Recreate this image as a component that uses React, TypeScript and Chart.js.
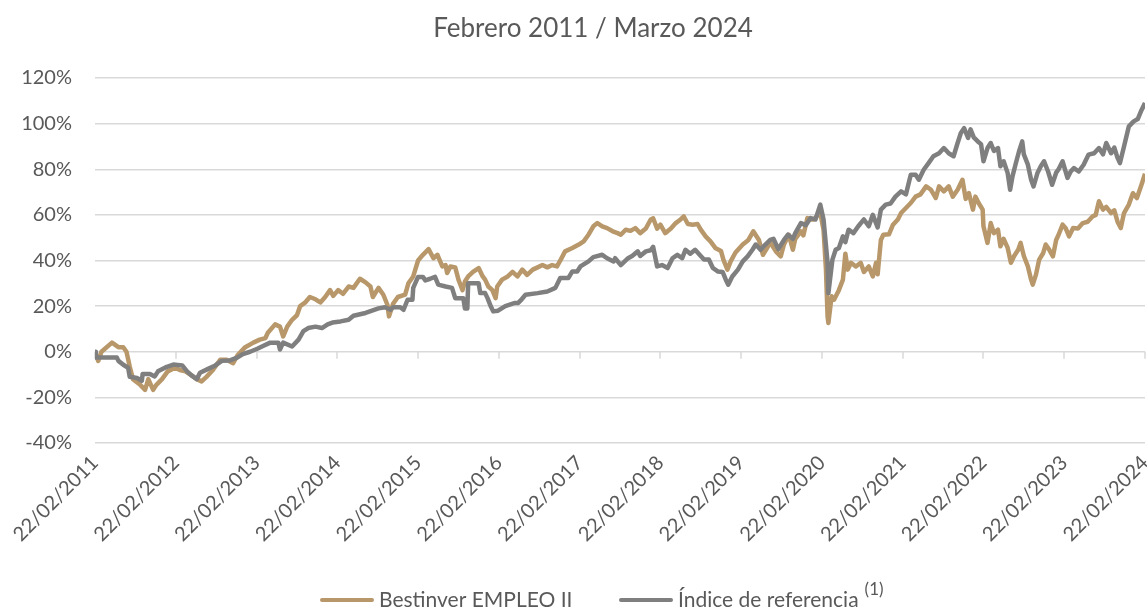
import React, { useEffect, useRef } from 'react';
import { Chart, registerables } from 'chart.js';

Chart.register(...registerables);

const TITLE = 'Febrero 2011 / Marzo 2024';
const START_YEAR = 2011;
const TICK_PREFIX = '22/02/';
const YEAR_TICKS = [0, 1, 2, 3, 4, 5, 6, 7, 8, 9, 10, 11, 12, 13];
const Y_MIN = -40;
const Y_MAX = 120;
const Y_STEP = 20;

const FUND_NAME = 'Bestinver EMPLEO II';
const INDEX_NAME = 'Índice de referencia';
const INDEX_NOTE = '(1)';

// years since 22/02/2011
const fundT = [0, 0.04, 0.08, 0.21, 0.29, 0.35, 0.39, 0.43, 0.47, 0.56, 0.62, 0.66, 0.72, 0.76, 0.83, 0.9, 0.99, 1.05, 1.12, 1.18, 1.26, 1.32, 1.38, 1.46, 1.55, 1.63, 1.71, 1.77, 1.86, 1.96, 2.04, 2.11, 2.14, 2.23, 2.29, 2.33, 2.38, 2.44, 2.5, 2.54, 2.6, 2.66, 2.73, 2.79, 2.85, 2.91, 2.95, 3.01, 3.07, 3.14, 3.2, 3.28, 3.35, 3.41, 3.44, 3.51, 3.57, 3.62, 3.64, 3.69, 3.75, 3.84, 3.88, 3.94, 4.0, 4.06, 4.13, 4.19, 4.24, 4.3, 4.34, 4.36, 4.4, 4.46, 4.5, 4.55, 4.58, 4.62, 4.68, 4.75, 4.8, 4.83, 4.87, 4.92, 4.96, 4.98, 5.04, 5.11, 5.17, 5.23, 5.29, 5.35, 5.42, 5.48, 5.54, 5.6, 5.66, 5.72, 5.77, 5.82, 5.91, 5.99, 6.05, 6.11, 6.17, 6.22, 6.28, 6.34, 6.41, 6.47, 6.51, 6.57, 6.63, 6.69, 6.75, 6.82, 6.88, 6.91, 6.96, 7.0, 7.06, 7.13, 7.19, 7.25, 7.29, 7.34, 7.4, 7.46, 7.5, 7.56, 7.62, 7.68, 7.75, 7.78, 7.83, 7.87, 7.93, 8.02, 8.09, 8.15, 8.22, 8.27, 8.33, 8.36, 8.43, 8.49, 8.53, 8.59, 8.64, 8.67, 8.74, 8.77, 8.82, 8.86, 8.9, 8.95, 8.98, 9.02, 9.05, 9.07, 9.08, 9.12, 9.15, 9.21, 9.26, 9.29, 9.32, 9.36, 9.42, 9.48, 9.52, 9.58, 9.63, 9.67, 9.69, 9.73, 9.76, 9.83, 9.88, 9.94, 9.98, 10.04, 10.1, 10.16, 10.22, 10.29, 10.35, 10.41, 10.45, 10.51, 10.57, 10.62, 10.68, 10.74, 10.78, 10.82, 10.87, 10.9, 10.94, 10.99, 11.0, 11.05, 11.09, 11.13, 11.18, 11.21, 11.25, 11.3, 11.34, 11.38, 11.43, 11.46, 11.5, 11.55, 11.59, 11.61, 11.65, 11.69, 11.74, 11.77, 11.81, 11.86, 11.9, 11.93, 11.98, 12.02, 12.06, 12.11, 12.17, 12.23, 12.29, 12.35, 12.39, 12.43, 12.48, 12.52, 12.58, 12.62, 12.66, 12.7, 12.74, 12.8, 12.85, 12.9, 12.95, 13.0];
const fundV = [0, -4, 0, 4, 2, 2, 0, -6.5, -12, -14.5, -16.7, -12, -16.7, -14.5, -12, -8.6, -7, -8, -8.6, -10, -12, -13, -11, -8, -3.5, -3.5, -5, -1.3, 2, 4, 5.3, 6, 8.3, 12, 11, 6.7, 11, 14, 16, 20, 21.5, 24, 23, 21.6, 24, 27, 24.5, 27, 25.4, 28.6, 28, 32, 30.4, 28.6, 24, 28, 25, 20.6, 15.5, 21, 24, 25, 30, 33, 40, 42.5, 45, 41, 42.5, 37.4, 38, 34.5, 37.4, 37, 31.6, 27, 30.8, 33, 35, 36.7, 33, 31.6, 28.6, 27, 23.5, 28.6, 31.6, 33, 35, 33, 36, 33.7, 36, 37, 38, 37, 38, 37.4, 40.6, 44, 45.5, 47, 48.4, 51.3, 55, 56.4, 55, 54.2, 52.8, 52, 51.3, 53.5, 53, 54.2, 52, 54, 58, 58.5, 54, 55.7, 52, 54, 56.4, 58, 59.3, 56, 55.7, 56, 53.5, 50.6, 48.4, 45.5, 44.2, 40.4, 36, 39.6, 43.5, 47, 49, 52.8, 49, 42.5, 46, 48, 44, 41.8, 47, 51.3, 44.7, 49.5, 52.8, 51, 58.6, 58, 58, 60, 60.8, 53.5, 36, 15.5, 12.6, 24.3, 22.8, 27, 31.6, 43, 36, 39, 37.4, 39, 35, 37.4, 33, 39, 34, 49, 51.3, 51.5, 55.7, 58, 60.8, 63, 65.2, 68, 69, 72.5, 71, 67.4, 72.5, 70.3, 72.5, 68, 71, 75.4, 67, 69.5, 62.3, 68, 65.2, 62.3, 55, 47.7, 56.4, 52, 53.5, 46.2, 49.5, 45.5, 39, 42, 44.7, 47.7, 42, 37.4, 31.6, 29.4, 33.8, 40.4, 43.3, 47, 45, 41.8, 49, 51.3, 55.7, 54, 50.6, 54.2, 54, 56.4, 57, 59.3, 60, 66, 62.3, 63.5, 60.8, 62, 57, 54.2, 60.8, 64.5, 69.5, 67.4, 72.5, 78];

const indexT = [0, 0.01, 0.27, 0.29, 0.35, 0.41, 0.43, 0.52, 0.58, 0.59, 0.68, 0.74, 0.78, 0.89, 0.97, 1.08, 1.14, 1.2, 1.26, 1.3, 1.4, 1.49, 1.57, 1.67, 1.76, 1.83, 1.92, 2.01, 2.08, 2.17, 2.27, 2.29, 2.33, 2.44, 2.52, 2.58, 2.64, 2.73, 2.81, 2.88, 2.94, 3.04, 3.14, 3.2, 3.35, 3.43, 3.51, 3.59, 3.66, 3.69, 3.78, 3.82, 3.87, 3.93, 3.94, 4.0, 4.06, 4.09, 4.15, 4.21, 4.25, 4.34, 4.42, 4.46, 4.56, 4.58, 4.61, 4.62, 4.75, 4.77, 4.83, 4.86, 4.9, 4.93, 4.99, 5.08, 5.2, 5.24, 5.27, 5.33, 5.48, 5.6, 5.7, 5.76, 5.86, 5.91, 5.97, 6.01, 6.11, 6.17, 6.28, 6.34, 6.42, 6.44, 6.51, 6.6, 6.65, 6.72, 6.75, 6.82, 6.88, 6.91, 6.96, 7.02, 7.09, 7.15, 7.21, 7.27, 7.31, 7.37, 7.43, 7.5, 7.54, 7.6, 7.65, 7.71, 7.77, 7.81, 7.84, 7.89, 7.96, 8.02, 8.08, 8.14, 8.18, 8.24, 8.3, 8.36, 8.4, 8.46, 8.53, 8.58, 8.64, 8.67, 8.74, 8.8, 8.86, 8.92, 8.98, 9.02, 9.07, 9.08, 9.13, 9.17, 9.21, 9.26, 9.29, 9.33, 9.39, 9.45, 9.52, 9.58, 9.63, 9.69, 9.73, 9.79, 9.85, 9.91, 9.98, 10.04, 10.1, 10.16, 10.2, 10.26, 10.32, 10.38, 10.45, 10.51, 10.57, 10.63, 10.68, 10.72, 10.76, 10.81, 10.84, 10.88, 10.93, 10.97, 11.0, 11.05, 11.09, 11.13, 11.18, 11.21, 11.25, 11.3, 11.33, 11.36, 11.4, 11.44, 11.48, 11.5, 11.55, 11.59, 11.62, 11.67, 11.71, 11.75, 11.8, 11.85, 11.9, 11.93, 11.98, 12.04, 12.08, 12.12, 12.18, 12.24, 12.3, 12.37, 12.43, 12.48, 12.52, 12.58, 12.62, 12.66, 12.69, 12.74, 12.8, 12.86, 12.91, 12.95, 13.0];
const indexV = [0, -2.5, -2.5, -4, -5.7, -7, -11, -11.5, -12.7, -9.7, -9.7, -10.8, -8.6, -6.6, -5.6, -6, -8.6, -10.5, -12, -9.2, -7.5, -6, -4, -3.8, -2.6, -1, 0, 1.3, 2.5, 4, 4, 1, 4, 2.3, 5.3, 9, 10.4, 11, 10.4, 12, 12.8, 13.3, 14, 15.8, 17, 18, 19, 19.5, 18.4, 19.5, 19.5, 18.4, 22.8, 22.8, 28, 32.8, 32.8, 31.3, 32, 32.8, 29.4, 28.6, 28, 23.5, 23.5, 19, 19, 30, 30, 25.7, 25.7, 23.5, 19.9, 17.7, 18, 20, 21.4, 21.4, 22.5, 25, 25.7, 26.4, 28, 32.3, 32.3, 35.2, 35.2, 37.4, 39.6, 41.5, 42.5, 41, 39.6, 41, 38, 41, 42, 44, 42, 44, 44.5, 46, 37.4, 38, 36.7, 41, 42.5, 41, 44.7, 43, 44.7, 42, 40.4, 40.4, 36.7, 35.2, 35, 31.6, 29.4, 33, 36, 39.6, 41.8, 44.7, 47, 44.7, 47, 49, 49.5, 45, 49, 51.3, 49.5, 52, 56.4, 55.5, 58.6, 58, 64.5, 58, 39, 25.7, 40.4, 44.7, 45.5, 50.6, 48, 53.5, 52, 55, 58, 55, 60, 54.5, 62.3, 64.5, 65, 68, 70.3, 69, 77.6, 77.6, 75.4, 79.8, 82.7, 85.7, 87, 89.3, 87, 85.7, 91.5, 95.9, 98, 93.7, 97.5, 94, 92.2, 91, 83.5, 89.3, 91.5, 88, 89.3, 81.3, 83.5, 78.3, 71, 77, 82.5, 87.8, 92.2, 86.5, 82, 75.4, 72.5, 78.5, 81.3, 83.5, 79, 73.2, 78.5, 80, 83.5, 76.2, 79, 80.5, 79, 82, 86.4, 87, 89.3, 86.5, 91.5, 87, 89.5, 85, 82.7, 90, 98.8, 101, 102, 105.4, 109];

const FUND_COLOR = '#B8986A';
const INDEX_COLOR = '#7F7F7F';
const TEXT_COLOR = '#595959';
const GRID_COLOR = '#D9D9D9';
const FONT = 'Lato, "Open Sans", sans-serif';

const decorPlugin = {
  id: 'decor',
  beforeDatasetsDraw(chart: any) {
    const { ctx, scales } = chart;
    const x = scales.x;
    const y = scales.y;
    const y0 = y.getPixelForValue(0);
    ctx.save();
    ctx.strokeStyle = GRID_COLOR;
    ctx.lineWidth = 1.5;
    for (const t of YEAR_TICKS) {
      const px = Math.round(x.getPixelForValue(t));
      ctx.beginPath();
      ctx.moveTo(px, y0);
      ctx.lineTo(px, y0 + 7);
      ctx.stroke();
    }
    ctx.restore();
  },
  afterDraw(chart: any) {
    const { ctx } = chart;
    ctx.save();
    ctx.fillStyle = TEXT_COLOR;
    ctx.textAlign = 'center';
    ctx.textBaseline = 'middle';
    ctx.font = `26px ${FONT}`;
    ctx.fillText(TITLE, 593, 29);

    // legend
    const ly = 600;
    ctx.textAlign = 'left';
    ctx.textBaseline = 'middle';
    const items = [
      { color: FUND_COLOR, text: FUND_NAME, note: '', start: 322 },
      { color: INDEX_COLOR, text: INDEX_NAME, note: INDEX_NOTE, start: 621 },
    ];
    items.forEach((it) => {
      let cx = it.start;
      ctx.strokeStyle = it.color;
      ctx.lineWidth = 4;
      ctx.lineCap = 'round';
      ctx.beginPath();
      ctx.moveTo(cx, ly);
      ctx.lineTo(cx + 50, ly);
      ctx.stroke();
      cx += 57;
      ctx.fillStyle = TEXT_COLOR;
      ctx.font = `21px ${FONT}`;
      ctx.fillText(it.text, cx, ly);
      cx += ctx.measureText(it.text).width;
      if (it.note) {
        ctx.font = `17px ${FONT}`;
        ctx.fillText(it.note, cx + 6, ly - 10);
      }
    });
    ctx.restore();
  },
};

export default function App() {
  const ref = useRef<HTMLCanvasElement | null>(null);
  useEffect(() => {
    document.body.style.margin = '0';
    const canvas = ref.current;
    if (!canvas) return;
    const chart = new Chart(canvas, {
      type: 'line',
      data: {
        datasets: [
          {
            label: FUND_NAME,
            data: fundT.map((t, i) => ({ x: t, y: fundV[i] })),
            borderColor: FUND_COLOR,
            backgroundColor: FUND_COLOR,
            borderWidth: 4.5,
            pointRadius: 0,
            tension: 0,
            borderJoinStyle: 'round',
            order: 1,
          },
          {
            label: INDEX_NAME,
            data: indexT.map((t, i) => ({ x: t, y: indexV[i] })),
            borderColor: INDEX_COLOR,
            backgroundColor: INDEX_COLOR,
            borderWidth: 4.5,
            pointRadius: 0,
            tension: 0,
            borderJoinStyle: 'round',
            order: 0,
          },
        ],
      },
      options: {
        responsive: false,
        animation: false,
        layout: { padding: { top: 78, right: 2, left: 0, bottom: 0 } },
        plugins: {
          legend: { display: false },
          title: { display: false },
          tooltip: { enabled: false },
        },
        scales: {
          x: {
            type: 'linear',
            min: 0,
            max: 13,
            afterBuildTicks: (scale: any) => {
              scale.ticks = YEAR_TICKS.map((v) => ({ value: v }));
            },
            afterFit: (scale: any) => {
              scale.height = 167;
              scale.paddingRight = 0;
              scale.paddingLeft = 0;
            },
            grid: { display: false, drawTicks: false },
            border: { display: false },
            ticks: {
              autoSkip: false,
              minRotation: 45,
              maxRotation: 45,
              padding: 8,
              color: TEXT_COLOR,
              font: { family: FONT, size: 20 },
              callback: (v: any) => TICK_PREFIX + (START_YEAR + Number(v)),
            },
          },
          y: {
            min: Y_MIN,
            max: Y_MAX,
            afterFit: (scale: any) => {
              scale.width = 95;
            },
            grid: { color: GRID_COLOR, lineWidth: 1.5, drawTicks: false },
            border: { display: false },
            ticks: {
              stepSize: Y_STEP,
              padding: 23,
              color: TEXT_COLOR,
              font: { family: FONT, size: 20 },
              callback: (v: any) => v + '%',
            },
          },
        },
      },
      plugins: [decorPlugin],
    } as any);
    return () => chart.destroy();
  }, []);
  return (
    <div style={{ width: 1147, height: 610 }}>
      <canvas ref={ref} width={1147} height={610} style={{ display: 'block' }} />
    </div>
  );
}
